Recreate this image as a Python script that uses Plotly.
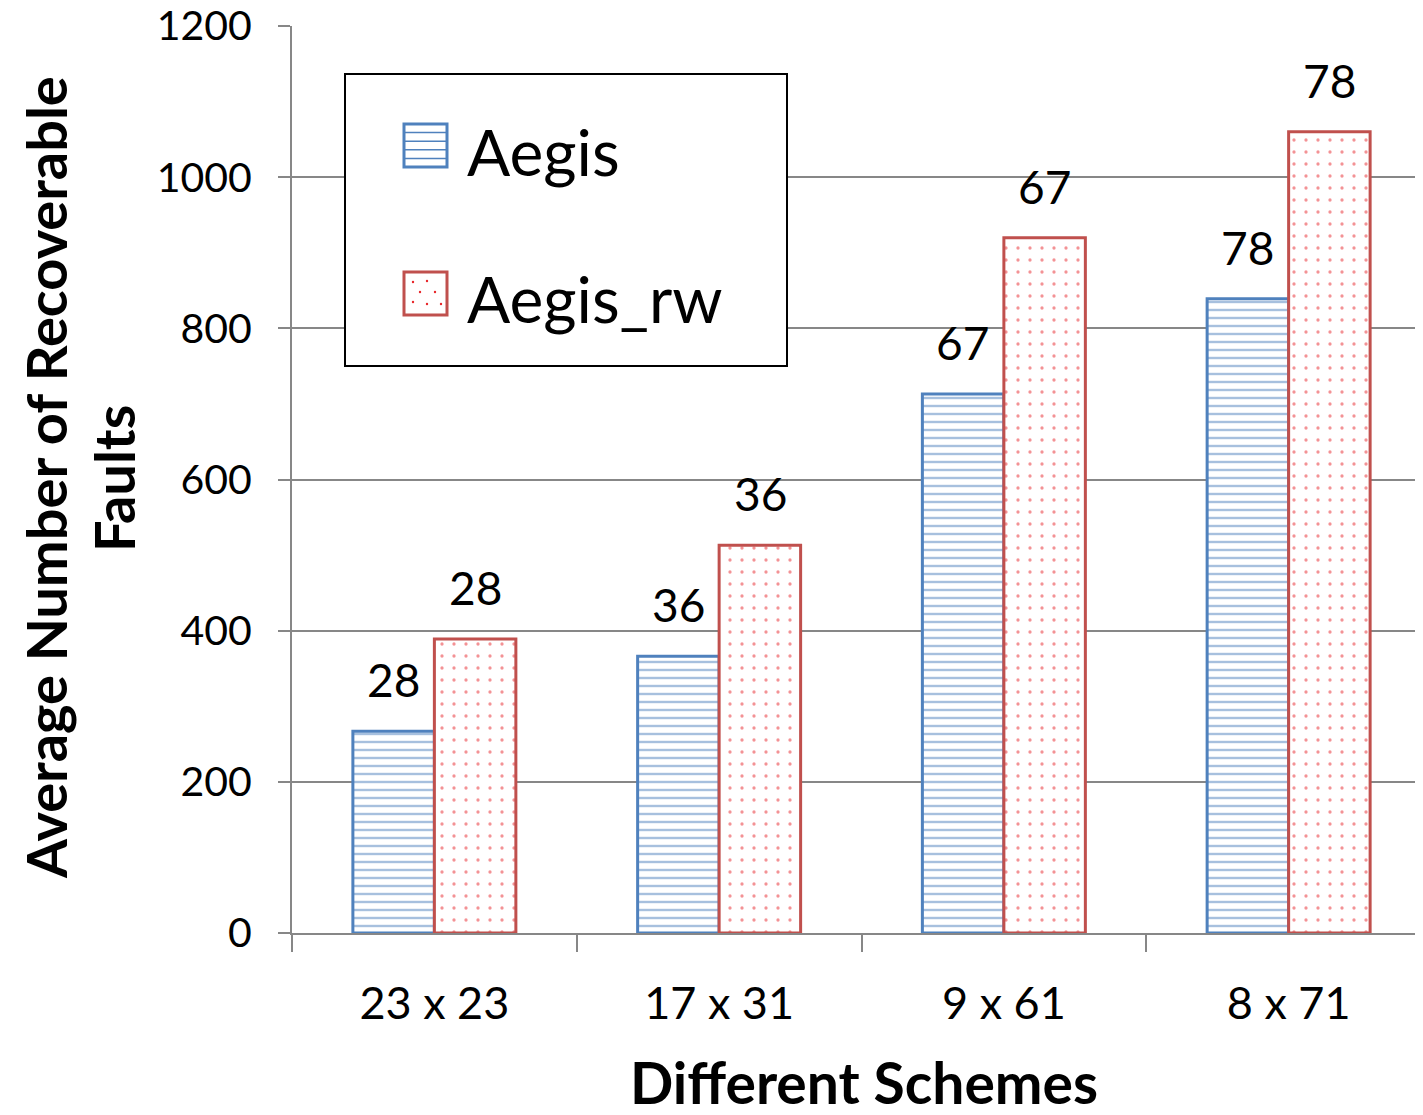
import plotly.graph_objects as go

categories = ["23 x 23", "17 x 31", "9 x 61", "8 x 71"]
aegis = [267, 366, 713, 839]
aegis_rw = [389, 513, 920, 1060]
aegis_labels = ["28", "36", "67", "78"]
aegis_rw_labels = ["28", "36", "67", "78"]
series_names = ["Aegis", "Aegis_rw"]

FONT = "Lato"
BLUE = "#4F81BD"
RED = "#C0504D"
DOT = "#E8262B"
GRID = "#878787"

# plot area in page pixels (page has 8px body margin)
PL, PR, PT, PB = 292, 1431, 26, 933


def px(x):
    return (x - PL) / (PR - PL)


def py(y):
    return (PB - y) / (PB - PT)


fig = go.Figure()
fig.add_trace(go.Bar(
    name=series_names[0], x=categories, y=aegis, showlegend=False,
    marker=dict(color="white", line=dict(color=BLUE, width=3),
                pattern=dict(shape="-", fgcolor=BLUE, bgcolor="white", size=8, solidity=0.3)),
))
fig.add_trace(go.Bar(
    name=series_names[1], x=categories, y=aegis_rw, showlegend=False,
    marker=dict(color="white", line=dict(color=RED, width=3),
                pattern=dict(shape=".", fgcolor=DOT, bgcolor="white", size=12, solidity=0.06)),
))

for cat, v, t in zip(categories, aegis, aegis_labels):
    fig.add_annotation(x=cat, y=v, text=t, xref="x", yref="y", showarrow=False,
                       xshift=-41, yshift=22, yanchor="bottom",
                       font=dict(family=FONT, size=46, color="black"))
for cat, v, t in zip(categories, aegis_rw, aegis_rw_labels):
    fig.add_annotation(x=cat, y=v, text=t, xref="x", yref="y", showarrow=False,
                       xshift=41, yshift=22, yanchor="bottom",
                       font=dict(family=FONT, size=46, color="black"))

shapes = []
# legend box
shapes.append(dict(type="rect", xref="paper", yref="paper", layer="above",
                   x0=px(345), x1=px(787), y0=py(366), y1=py(74),
                   line=dict(color="black", width=2), fillcolor="white"))
# blue swatch
shapes.append(dict(type="rect", xref="paper", yref="paper", layer="above",
                   x0=px(404), x1=px(447), y0=py(167), y1=py(124),
                   line=dict(color=BLUE, width=3), fillcolor="white"))
for k in range(1, 5):
    yy = 124 + k * (167 - 124) / 5
    shapes.append(dict(type="line", xref="paper", yref="paper", layer="above",
                       x0=px(405), x1=px(446), y0=py(yy), y1=py(yy),
                       line=dict(color=BLUE, width=1.5)))
# red swatch
shapes.append(dict(type="rect", xref="paper", yref="paper", layer="above",
                   x0=px(404), x1=px(447), y0=py(315), y1=py(272),
                   line=dict(color=RED, width=3), fillcolor="white"))
for (dx, dy) in [(413, 282), (427, 281), (420, 292), (435, 292), (413, 302), (427, 304), (441, 304)]:
    shapes.append(dict(type="circle", xref="paper", yref="paper", layer="above",
                       x0=px(dx - 1.2), x1=px(dx + 1.2), y0=py(dy + 1.2), y1=py(dy - 1.2),
                       line=dict(color=DOT, width=0), fillcolor=DOT))

legend_text = [(series_names[0], 152), (series_names[1], 298)]
for name, yc in legend_text:
    fig.add_annotation(x=px(465), y=py(yc), xref="paper", yref="paper", text=name,
                       showarrow=False, xanchor="left", yanchor="middle",
                       font=dict(family=FONT, size=64, color="black"))

# axis titles
fig.add_annotation(x=px(45), y=py(478), xref="paper", yref="paper",
                   text="<b>Average Number of Recoverable</b>", textangle=-90,
                   showarrow=False, xanchor="center", yanchor="middle",
                   font=dict(family=FONT, size=56, color="black"))
fig.add_annotation(x=px(113), y=py(479), xref="paper", yref="paper",
                   text="<b>Faults</b>", textangle=-90,
                   showarrow=False, xanchor="center", yanchor="middle",
                   font=dict(family=FONT, size=56, color="black"))
fig.add_annotation(x=px(864), y=py(1082), xref="paper", yref="paper",
                   text="<b>Different Schemes</b>",
                   showarrow=False, xanchor="center", yanchor="middle",
                   font=dict(family=FONT, size=57, color="black"))

fig.update_layout(
    width=1423, height=1115,
    margin=dict(l=284, r=0, t=18, b=190),
    paper_bgcolor="white", plot_bgcolor="white",
    barmode="group", bargap=0.4276, bargroupgap=0,
    font=dict(family=FONT, color="black"),
    showlegend=False,
    shapes=shapes,
    xaxis=dict(
        range=[-0.5, 3.5], showline=True, linecolor=GRID, linewidth=2,
        ticks="outside", ticklen=17, tickcolor=GRID, tickwidth=2,
        tickson="boundaries", showgrid=False, automargin=False,
        tickfont=dict(family=FONT, size=45, color="black"),
        ticklabelstandoff=30,
    ),
    yaxis=dict(
        range=[0, 1200], dtick=200, showline=True, linecolor=GRID, linewidth=2,
        ticks="outside", ticklen=12, tickcolor=GRID, tickwidth=2,
        showgrid=True, gridcolor=GRID, gridwidth=2, zeroline=False, automargin=False,
        tickfont=dict(family=FONT, size=41, color="black"),
        ticklabelstandoff=18, ticklabeloverflow="allow",
    ),
)

fig.write_html("out.html")
